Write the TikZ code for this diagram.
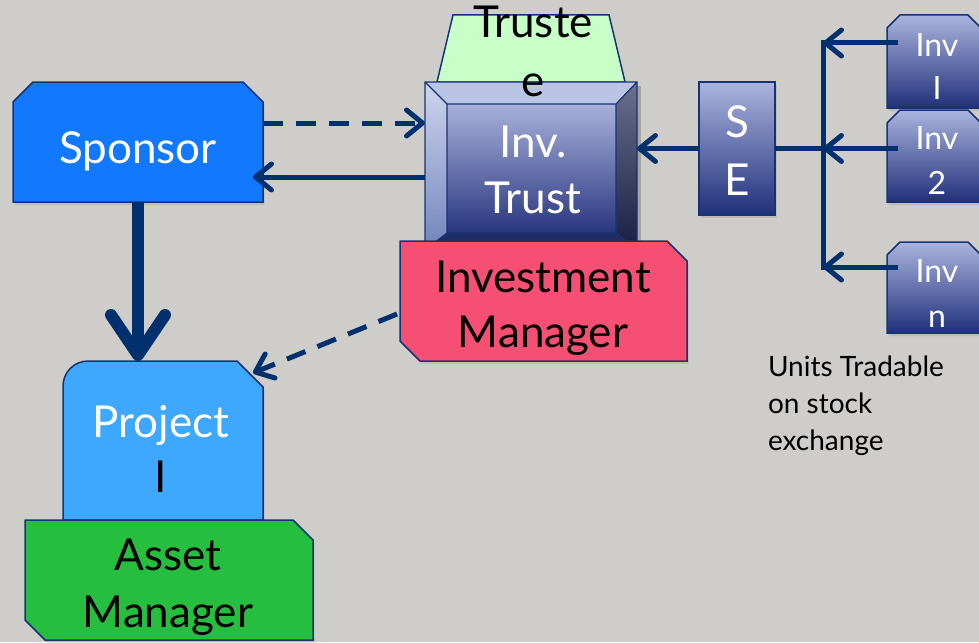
\documentclass[tikz,border=0pt]{standalone}
\usepackage{fontspec}
\setmainfont{Lato}
\usetikzlibrary{arrows.meta,calc,shadows}

\definecolor{canvas}{RGB}{207,205,201}
\definecolor{navy}{RGB}{0,49,110}
\definecolor{edgeblue}{RGB}{22,52,115}
\definecolor{sponsorblue}{RGB}{18,121,255}
\definecolor{projblue}{RGB}{62,168,255}
\definecolor{assetgreen}{RGB}{38,190,62}
\definecolor{imred}{RGB}{245,80,115}
\definecolor{trustgreen}{RGB}{200,255,200}
\definecolor{gradtop}{RGB}{170,180,222}
\definecolor{gradbot}{RGB}{32,48,122}
% bevel faces of the trust block
\definecolor{bevtop}{RGB}{186,196,228}
\definecolor{bevlefttop}{RGB}{206,213,236}
\definecolor{bevleftbot}{RGB}{112,132,188}
\definecolor{bevrighttop}{RGB}{108,112,140}
\definecolor{bevrightbot}{RGB}{24,30,68}
\definecolor{bevbot}{RGB}{34,44,100}
\definecolor{facetop}{RGB}{168,177,219}
\definecolor{facebot}{RGB}{40,54,126}

\begin{document}
\begin{tikzpicture}[x=1pt,y=-1pt,
  every node/.style={inner sep=0pt, outer sep=0pt},
  edge line/.style={draw=edgeblue, line width=1.5pt, line join=miter},
  soft shadow/.style={drop shadow={opacity=0.22, shadow xshift=1.5pt, shadow yshift=-3pt}},
  shade box/.style={edge line, top color=gradtop, bottom color=gradbot},
  big text/.style={font=\fontsize{44}{#1}\selectfont, align=center},
  small text/.style={font=\fontsize{32}{#1}\selectfont, align=center, text=white},
  flow/.style={draw=navy, line width=5pt},
  arr/.style={flow, -{Straight Barb[length=16pt, width=26pt, round]}},
  dash arr/.style={arr, dash pattern=on 20pt off 13pt},
  big arr/.style={draw=navy, line width=12pt, -{Straight Barb[length=40pt, width=54pt, round]}}
]
% page and background
\fill[canvas] (0,0) rectangle (979,642);
\useasboundingbox (0,0) rectangle (979,642);

% ---------- Sponsor ----------
\path[soft shadow, fill=sponsorblue, edge line]
  (13,102) -- (33,82) -- (243,82) -- (263,102) -- (263,202) -- (13,202) -- cycle;
\node[minimum width=250pt, minimum height=120pt] (sponsor) at (138,142) {};
\node[big text=55, text=white, anchor=base] (sponsor label) at (138,163) {Sponsor};

% ---------- Project I ----------
\path[soft shadow, fill=projblue, edge line]
  (63,520) [rounded corners=25pt] -- (63,361) [sharp corners] -- (237,361)
  -- (263,387) -- (263,520) -- cycle;
\node[minimum width=200pt, minimum height=159pt] (project) at (163,440.5) {};
\node[big text=55, text=white] (project label) at (161,449) {Project\\\textcolor{black}{I}};

% ---------- Asset Manager ----------
\path[soft shadow, fill=assetgreen, edge line]
  (25,520) -- (293,520) -- (313,540) -- (313,640) -- (45,640) -- (25,620) -- cycle;
\node[minimum width=288pt, minimum height=120pt] (asset) at (169,580) {};
\node[big text=57] (asset label) at (168,587) {Asset\\Manager};

% ---------- Trustee (trapezoid behind the trust) ----------
\path[soft shadow, fill=trustgreen, edge line]
  (437,82) -- (453,15) -- (609,15) -- (625,82) -- cycle;

% ---------- Inv. Trust (bevelled block) ----------
\fill[black, opacity=0.2] (428,86) rectangle (641,254);
\fill[bevtop] (425,82) -- (637,82) -- (616,104) -- (447,104) -- cycle;
\shade[top color=bevlefttop, bottom color=bevleftbot]
  (425,82) -- (447,104) -- (447,233) -- (425,250) -- cycle;
\shade[top color=bevrighttop, bottom color=bevrightbot]
  (637,82) -- (637,250) -- (616,233) -- (616,104) -- cycle;
\fill[bevbot] (425,250) -- (637,250) -- (616,233) -- (447,233) -- cycle;
\shade[top color=facetop, bottom color=facebot] (447,104) rectangle (616,233);
\draw[edgeblue, line width=1.2pt]
  (425,82) rectangle (637,250)
  (447,104) rectangle (616,233)
  (425,82) -- (447,104) (637,82) -- (616,104)
  (425,250) -- (447,233) (637,250) -- (616,233);
\node[minimum width=212pt, minimum height=168pt] (invtrust) at (531,166) {};
\node[big text=56, text=white] (invtrust label) at (533,169.5) {Inv.\\Trust};

% ---------- Investment Manager ----------
\path[soft shadow, fill=imred, edge line]
  (400,241) -- (667,241) -- (687,261) -- (687,361) -- (420,361) -- (400,341) -- cycle;
\node[minimum width=287pt, minimum height=120pt] (im) at (543.5,301) {};
\node[big text=55] (im label) at (543,308) {Investment\\Manager};

% Trustee caption sits over the trust block
\node[big text=59] (trustee) at (533,51.5) {Truste\\e};

% ---------- Stock exchange ----------
\path[soft shadow, shade box] (699,82) rectangle (775,215);
\node[minimum width=76pt, minimum height=133pt] (se) at (737,148.5) {};
\node[big text=58, text=white] (se label) at (737,150.5) {S\\E};

% ---------- Investors ----------
\path[soft shadow, shade box]
  (887,28) -- (900,15) -- (968,15) -- (981,28) -- (981,108) -- (887,108) -- cycle;
\node[minimum width=94pt, minimum height=93pt] (inv1) at (934,61.5) {};
\node[small text=43] (inv1 label) at (937,67) {Inv\\I};

\path[soft shadow, shade box]
  (887,123) -- (900,110) -- (968,110) -- (981,123) -- (981,202) -- (887,202) -- cycle;
\node[minimum width=94pt, minimum height=92pt] (inv2) at (934,156) {};
\node[small text=45] (inv2 label) at (937,161) {Inv\\2};

\path[soft shadow, shade box]
  (887,255) -- (900,242) -- (968,242) -- (981,255) -- (981,333) -- (887,333) -- cycle;
\node[minimum width=94pt, minimum height=91pt] (invn) at (934,287.5) {};
\node[small text=45] (invn label) at (937,294) {Inv\\n};

\node[anchor=north west, align=left, font=\fontsize{28}{37}\selectfont] (units note)
  at (768,356) {Units Tradable\\on stock\\exchange};

% ---------- Connectors ----------
\coordinate (s out) at ($(sponsor.east)+(0,-19)$);
\coordinate (s in) at ($(sponsor.east)+(-10,35)$);
\draw[dash arr] (s out) -- (s out -| invtrust.west);
\draw[arr] (s in -| invtrust.west) -- (s in);
\draw[big arr] (sponsor.south) -- (sponsor.south |- project.north);
\draw[dash arr] ($(im.west)+(-3,13)$) -- ($(project.north east)+(-10,12)$);

\draw[arr] (se.west) -- (se.west -| invtrust.east);
\coordinate (bus top) at (823,43);
\coordinate (bus mid) at (823,148.5);
\coordinate (bus bottom) at (823,267);
\draw[flow] (se.east) -- (bus mid);
\draw[flow, line cap=rect] (bus top) -- (bus bottom);
\draw[arr] ($(inv1.west |- bus top)+(11,0)$) -- (bus top);
\draw[arr] ($(inv2.west |- bus mid)+(11,0)$) -- (bus mid);
\draw[arr] ($(invn.west |- bus bottom)+(11,0)$) -- (bus bottom);
\end{tikzpicture}
\end{document}
